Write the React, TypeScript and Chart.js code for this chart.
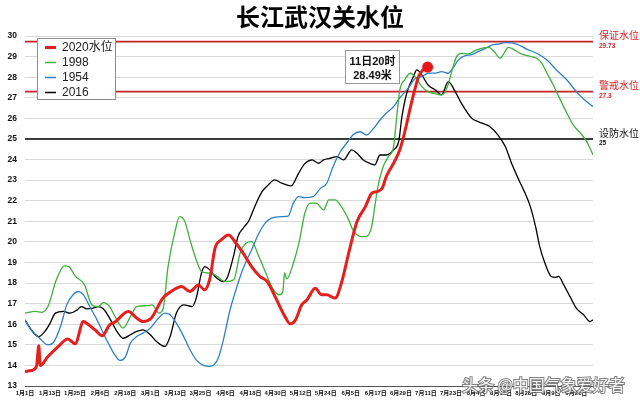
import React, { useEffect, useRef } from 'react';
import { Chart, registerables } from 'chart.js';

Chart.register(...registerables);

// ---- axis labels ----
const xTickDays = [0, 12, 24, 36, 48, 60, 72, 84, 96, 108, 120, 132, 144, 156, 168, 180, 192, 204, 216, 228, 240, 252, 264];
const xTickLabels = ['1月1日', '1月13日', '1月25日', '2月6日', '2月18日', '3月1日', '3月13日', '3月25日', '4月6日', '4月18日', '4月30日', '5月12日', '5月24日', '6月5日', '6月17日', '6月29日', '7月11日', '7月23日', '8月4日', '8月16日', '8月28日', '9月9日', '9月21日'];
const seriesNames = ['2020水位', '1998', '1954', '2016'];

// ---- reference levels ----
const refLevels = [29.73, 27.3, 25];
const refNames = ['保证水位', '警戒水位', '设防水位'];
const refValueTexts = ['29.73', '27.3', '25'];

// ---- 2020 ----
const days2020 = [0, 3, 5.5, 6.6, 7.3, 11, 16, 20.5, 24, 28, 29.5, 33.5, 37, 40.5, 43, 49.5, 53.5, 56.5, 60.5, 66, 70, 75, 79, 83, 86, 88.5, 91, 94, 97.5, 100.5, 104, 108.5, 112.5, 116, 120.5, 124.5, 127, 129.5, 132.5, 135, 139, 142, 144.5, 148.5, 151.5, 155, 159, 163, 166, 168.5, 171, 173, 176.5, 179.5, 182, 185, 188.5, 190.5, 192.8];
const levels2020 = [13.7, 13.75, 13.95, 14.95, 14.0, 14.43, 14.92, 15.28, 15.05, 16.13, 16.05, 15.73, 15.44, 15.97, 16.1, 16.62, 16.3, 16.13, 16.3, 17.27, 17.59, 17.83, 17.59, 17.91, 17.67, 18.2, 19.69, 20.1, 20.34, 20.01, 19.53, 18.8, 18.32, 18.07, 17.18, 16.37, 16.02, 16.2, 16.94, 17.18, 17.75, 17.43, 17.43, 17.27, 17.99, 19.45, 20.99, 21.71, 22.36, 22.44, 22.6, 23.17, 23.82, 24.47, 25.4, 26.73, 28.03, 28.35, 28.49];
const peakDay = 192.8;
const peakLevel = 28.49;
const peakTexts = ['11日20时', '28.49米'];

// ---- 1998 ----
const days1998 = [0, 5, 8, 11, 15, 19, 21, 24, 28.5, 32, 35, 37.5, 40.5, 43, 47, 50.5, 53.5, 58.5, 61, 64, 66, 68.5, 72, 74, 76.5, 79, 82, 84.5, 88.5, 91, 96, 100, 103, 106, 108.5, 112, 116, 119, 122, 123.5, 124.3, 125.3, 128.5, 131.5, 134, 136.5, 139.5, 143, 145.5, 148.5, 151.5, 155, 157, 161, 163.5, 166, 167.5, 169, 171.5, 174, 176.5, 178, 179.5, 182, 184.5, 187, 190, 193, 196.5, 199.5, 202, 205, 206.7, 209, 212.5, 215.5, 218.5, 222, 225, 227.5, 229, 231.5, 234, 237, 241, 245, 247.5, 250, 253, 256, 259.5, 262.5, 266, 269, 272];
const levels1998 = [16.54, 16.62, 16.58, 16.86, 18.16, 18.83, 18.8, 18.35, 17.91, 16.94, 16.86, 17.05, 16.86, 16.4, 15.81, 16.37, 16.86, 16.9, 16.94, 16.54, 16.7, 18.8, 20.58, 21.23, 21.0, 20.1, 19.13, 18.56, 18.48, 18.4, 18.07, 18.16, 19.45, 19.94, 20.01, 19.29, 18.32, 17.67, 17.43, 17.6, 18.5, 18.2, 18.96, 20.1, 21.39, 21.88, 21.88, 21.55, 22.04, 22.04, 21.71, 21.07, 20.58, 20.26, 20.26, 20.74, 21.71, 22.68, 23.65, 24.14, 24.63, 26.08, 27.38, 27.9, 28.19, 28.0, 27.54, 27.3, 27.2, 27.14, 27.46, 28.51, 29.0, 29.16, 29.13, 29.29, 29.4, 29.45, 29.2, 28.92, 29.1, 29.45, 29.35, 29.16, 29.03, 28.92, 28.67, 28.19, 27.62, 26.97, 26.25, 25.68, 25.28, 24.87, 24.22];

// ---- 1954 ----
const days1954 = [0, 3, 7, 11, 13.5, 17, 20, 23, 25.5, 28, 31, 34.5, 37.5, 40.5, 43, 45.5, 48, 50.5, 53.5, 56.5, 60, 64, 67, 69.5, 72.5, 76, 79, 82, 85.5, 88.5, 92.5, 95, 98, 101.5, 104.5, 108.5, 112, 115, 118, 123, 126, 128.5, 131, 134, 138, 141.5, 144.5, 147.5, 151, 154, 157, 160.5, 163.5, 167, 170, 173, 176.5, 179.5, 183.5, 187, 190, 193, 196.5, 199.5, 202.5, 205, 207.5, 210.5, 214, 217, 220.5, 223.5, 226, 230.5, 235.5, 240.5, 245, 250, 254.5, 259.5, 264, 268, 272];
const levels1954 = [16.21, 15.73, 15.32, 15.0, 15.1, 15.89, 16.94, 17.43, 17.59, 17.43, 16.86, 16.21, 15.57, 14.96, 14.51, 14.24, 14.4, 15.08, 15.4, 15.57, 15.81, 16.3, 16.54, 16.46, 16.05, 15.4, 14.76, 14.27, 14.0, 13.95, 14.35, 15.24, 16.62, 17.83, 18.72, 19.61, 20.42, 20.91, 21.15, 21.23, 21.25, 21.88, 22.2, 22.15, 22.2, 22.6, 22.85, 23.65, 24.38, 24.79, 25.19, 25.35, 25.19, 25.52, 25.92, 26.25, 26.57, 27.0, 27.46, 27.95, 28.03, 28.19, 28.2, 28.27, 28.19, 28.45, 28.83, 29.03, 29.1, 29.24, 29.4, 29.56, 29.6, 29.68, 29.61, 29.35, 29.16, 28.83, 28.35, 27.86, 27.3, 26.89, 26.57];

// ---- 2016 ----
const days2016 = [0, 3, 6.5, 9.5, 12, 14.5, 18.5, 21.5, 25, 27, 29.5, 32.5, 35, 37.5, 40.5, 44, 47, 50.5, 53.5, 56.5, 60, 63, 67, 69.5, 72.5, 76, 80, 82, 84.5, 86, 88.5, 91, 95, 97, 100, 102, 104.5, 107, 110, 113.5, 116.5, 119.5, 123, 127.5, 131, 134, 137.5, 140.5, 143, 146, 149.5, 152.5, 156.5, 159, 162, 165, 167.5, 170, 173, 176.5, 179, 180.5, 182.8, 186, 187.6, 190, 193, 196.5, 199.5, 202.7, 206, 209, 214, 217, 220.5, 222.5, 226.5, 230, 233, 236.5, 239.5, 242, 244.5, 246.5, 249, 252, 254, 255.5, 258, 261, 264, 267.5, 270.5, 272];
const levels2016 = [16.21, 15.73, 15.4, 15.65, 16.05, 16.54, 16.62, 16.54, 16.7, 16.86, 16.75, 16.78, 16.86, 16.75, 16.3, 15.65, 15.32, 15.49, 15.65, 15.73, 15.49, 15.16, 14.92, 15.4, 16.54, 16.94, 16.86, 17.27, 18.48, 18.8, 18.64, 18.32, 18.07, 18.3, 19.37, 20.26, 20.67, 20.99, 21.71, 22.44, 22.77, 23.01, 22.85, 22.72, 23.33, 23.8, 23.98, 23.82, 23.98, 24.06, 24.14, 23.98, 24.47, 24.3, 23.98, 23.82, 23.74, 24.22, 24.22, 24.47, 24.9, 26.08, 27.22, 28.03, 28.35, 28.11, 27.62, 27.38, 27.14, 27.78, 27.3, 26.73, 26.0, 25.84, 25.7, 25.6, 25.19, 24.63, 23.82, 23.01, 22.36, 21.71, 20.74, 19.77, 18.96, 18.32, 18.28, 18.32, 17.91, 17.34, 16.78, 16.46, 16.13, 16.21];

const COLORS = ['#e3201e', '#3fb03c', '#2f80c2', '#000000'];
const WIDTHS = [3, 1.3, 1.3, 1.3];
const REF_COLORS = ['#c3252b', '#c3252b', '#000000'];
const REF_TEXT_COLORS = ['#d7262b', '#d7262b', '#111111'];
const FONT = '"Liberation Sans", "Noto Sans CJK SC", sans-serif';
const CJK = '"Noto Sans CJK SC", "Liberation Sans", sans-serif';

const decorPlugin = {
  id: 'decor',
  beforeDatasetsDraw(chart: any) {
    const { ctx, chartArea, scales } = chart;
    ctx.save();
    refLevels.forEach((v, i) => {
      const y = scales.y.getPixelForValue(v);
      ctx.strokeStyle = REF_COLORS[i];
      ctx.lineWidth = i < 2 ? 1.8 : 1.5;
      ctx.beginPath();
      ctx.moveTo(chartArea.left, y);
      ctx.lineTo(chartArea.right, y);
      ctx.stroke();
    });
    ctx.restore();
  },
  afterDatasetsDraw(chart: any) {
    const { ctx, chartArea, scales } = chart;
    ctx.save();
    // right-side reference labels
    refLevels.forEach((v, i) => {
      const y = scales.y.getPixelForValue(v);
      ctx.fillStyle = REF_TEXT_COLORS[i];
      ctx.textAlign = 'left';
      ctx.textBaseline = 'middle';
      ctx.font = `10px ${CJK}`;
      ctx.fillText(refNames[i], chartArea.right + 6, y - 6);
      ctx.font = `bold 6.5px ${FONT}`;
      ctx.fillText(refValueTexts[i], chartArea.right + 6, y + 4.5);
    });

    // legend box
    const lx = 37.5, ly = 38.5, lw = 78, lh = 61;
    ctx.fillStyle = '#ffffff';
    ctx.fillRect(lx, ly, lw, lh);
    ctx.strokeStyle = '#8c8c8c';
    ctx.lineWidth = 1;
    ctx.strokeRect(lx, ly, lw, lh);
    seriesNames.forEach((name, i) => {
      const y = 47.5 + i * 15;
      ctx.strokeStyle = COLORS[i];
      ctx.lineWidth = i === 0 ? 3 : 1.5;
      ctx.beginPath();
      ctx.moveTo(45, y);
      ctx.lineTo(56, y);
      ctx.stroke();
      ctx.fillStyle = '#222';
      ctx.font = `12px ${FONT}`;
      ctx.textAlign = 'left';
      ctx.textBaseline = 'middle';
      ctx.fillText(name, 62, y + 0.5);
    });

    // peak callout
    const bx = 345.5, by = 50.5, bw = 54, bh = 33;
    ctx.fillStyle = '#ffffff';
    ctx.fillRect(bx, by, bw, bh);
    ctx.strokeStyle = '#9a9a9a';
    ctx.lineWidth = 1;
    ctx.strokeRect(bx, by, bw, bh);
    ctx.fillStyle = '#111';
    ctx.font = `bold 11px ${FONT}`;
    ctx.textAlign = 'center';
    ctx.textBaseline = 'middle';
    ctx.fillText(peakTexts[0], bx + bw / 2, by + 11.5);
    ctx.fillText(peakTexts[1], bx + bw / 2, by + 25.5);
    ctx.restore();
  },
  afterDraw(chart: any) {
    const { ctx } = chart;
    ctx.save();
    ctx.font = `16px ${CJK}`;
    ctx.textAlign = 'left';
    ctx.textBaseline = 'middle';
    ctx.lineWidth = 2;
    ctx.strokeStyle = 'rgba(100,100,100,0.8)';
    ctx.strokeText('头条 @中国气象爱好者', 462, 385);
    ctx.fillStyle = 'rgba(255,255,255,0.92)';
    ctx.fillText('头条 @中国气象爱好者', 462, 385);
    ctx.restore();
  },
};

export default function App() {
  const ref = useRef<HTMLCanvasElement | null>(null);

  useEffect(() => {
    if (!ref.current) return;
    const pts = (d: number[], v: number[]) => d.map((x, i) => ({ x, y: v[i] }));
    const line = (i: number, d: number[], v: number[]) => ({
      label: seriesNames[i],
      data: pts(d, v),
      borderColor: COLORS[i],
      backgroundColor: COLORS[i],
      borderWidth: WIDTHS[i],
      pointRadius: 0,
      fill: false,
      cubicInterpolationMode: 'monotone' as const,
    });
    const chart = new Chart(ref.current, {
      type: 'line',
      data: {
        datasets: [
          {
            label: 'peak',
            data: [{ x: peakDay, y: peakLevel }],
            showLine: false,
            pointRadius: 5.5,
            pointBackgroundColor: '#e8151c',
            pointBorderColor: '#e8151c',
            pointBorderWidth: 0,
          },
          line(0, days2020, levels2020),
          line(1, days1998, levels1998),
          line(2, days1954, levels1954),
          line(3, days2016, levels2016),
        ] as any,
      },
      options: {
        animation: false,
        responsive: true,
        maintainAspectRatio: false,
        layout: { padding: 0 },
        plugins: {
          legend: { display: false },
          tooltip: { enabled: false },
          title: {
            display: true,
            text: '长江武汉关水位',
            color: '#000',
            font: { size: 24, weight: 'bold', family: CJK },
            padding: { top: 2, bottom: 5.2 },
          },
        },
        scales: {
          x: {
            type: 'linear',
            min: 0,
            max: 272,
            afterBuildTicks: (axis: any) => {
              axis.ticks = xTickDays.map((v) => ({ value: v }));
            },
            afterFit: (s: any) => {
              s.height = 19;
            },
            ticks: {
              autoSkip: false,
              maxRotation: 0,
              minRotation: 0,
              padding: 4,
              color: '#111',
              font: { size: 6, weight: 'bold', family: FONT },
              callback: (v: any) => {
                const i = xTickDays.indexOf(Number(v));
                return i >= 0 ? xTickLabels[i] : '';
              },
            },
            grid: { display: false, drawTicks: false },
            border: { display: true, color: '#555', width: 1 },
          },
          y: {
            min: 13,
            max: 30,
            afterFit: (s: any) => {
              s.width = 25;
            },
            ticks: {
              stepSize: 1,
              padding: 8,
              color: '#111',
              font: { size: 8.5, weight: 'bold', family: FONT },
            },
            grid: { color: '#d9d9d9', drawTicks: false, lineWidth: 1 },
            border: { display: false },
          },
          yRight: {
            position: 'right',
            min: 13,
            max: 30,
            afterFit: (s: any) => {
              s.width = 47;
            },
            ticks: { display: false },
            grid: { display: false, drawTicks: false },
            border: { display: false },
          },
        },
      } as any,
      plugins: [decorPlugin],
    });
    return () => chart.destroy();
  }, []);

  return (
    <div style={{ position: 'absolute', left: 0, top: 0, width: 640, height: 405, background: '#fff' }}>
      <canvas ref={ref} />
    </div>
  );
}
